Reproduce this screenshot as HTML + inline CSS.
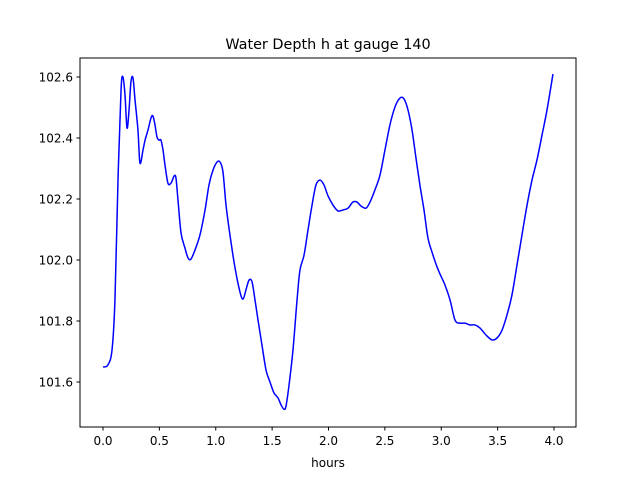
<!DOCTYPE html>
<html><head><meta charset="utf-8">
<style>
html,body{margin:0;padding:0;background:#fff;}
svg{display:block;font-family:"DejaVu Sans","Liberation Sans",sans-serif;}
</style></head>
<body>
<svg id="chart" width="640" height="480" viewBox="0 0 640 480">
<rect x="0" y="0" width="640" height="480" fill="#fff"/>
<text x="328" y="49" font-size="14.4" text-anchor="middle" fill="#000">Water Depth h at gauge 140</text>
<g id="xticks"></g>
<g id="yticks"></g>
<path id="line" fill="none" stroke="#0000ff" stroke-width="1.5"/>
<rect x="80" y="58" width="496" height="369" fill="none" stroke="#000" stroke-width="1"/>
<text x="328" y="467" font-size="12" text-anchor="middle" fill="#000">hours</text>
</svg>
<script>
const hours=[0,0.044,0.080,0.106,0.133,0.160,0.177,0.195,0.213,0.231,0.248,0.266,0.284,0.310,0.328,0.355,0.373,0.399,0.426,0.443,0.461,0.479,0.497,0.514,0.532,0.550,0.576,0.603,0.630,0.647,0.665,0.692,0.727,0.754,0.780,0.816,0.860,0.905,0.940,0.976,1.011,1.038,1.064,1.091,1.126,1.171,1.215,1.242,1.268,1.295,1.322,1.348,1.375,1.410,1.446,1.481,1.517,1.552,1.579,1.605,1.623,1.650,1.685,1.721,1.747,1.783,1.818,1.854,1.889,1.925,1.960,1.996,2.040,2.084,2.129,2.173,2.217,2.253,2.288,2.333,2.368,2.412,2.457,2.501,2.545,2.590,2.634,2.670,2.705,2.741,2.776,2.812,2.847,2.882,2.918,2.953,2.989,3.033,3.078,3.122,3.166,3.211,3.255,3.299,3.344,3.397,3.450,3.494,3.539,3.583,3.627,3.672,3.716,3.761,3.805,3.849,3.894,3.938,3.991];
const depth=[101.649,101.656,101.705,101.869,102.262,102.557,102.600,102.541,102.433,102.492,102.584,102.597,102.525,102.426,102.318,102.361,102.393,102.426,102.466,102.472,102.443,102.403,102.393,102.393,102.361,102.311,102.252,102.252,102.275,102.269,102.197,102.089,102.039,102.007,102.003,102.033,102.082,102.164,102.246,102.295,102.321,102.321,102.289,102.180,102.082,101.974,101.895,101.872,101.902,101.934,101.928,101.869,101.803,101.721,101.639,101.600,101.564,101.548,101.525,101.511,101.521,101.590,101.705,101.869,101.967,102.016,102.098,102.180,102.246,102.262,102.246,102.210,102.180,102.161,102.164,102.170,102.190,102.190,102.177,102.170,102.190,102.230,102.279,102.361,102.443,102.502,102.531,102.528,102.492,102.426,102.334,102.243,102.164,102.072,102.026,101.987,101.954,101.918,101.869,101.803,101.793,101.793,101.787,101.787,101.777,101.754,101.738,101.744,101.770,101.820,101.885,101.984,102.082,102.180,102.262,102.328,102.410,102.492,102.610];
const xTickVals=[0,0.5,1,1.5,2,2.5,3,3.5,4];
const xTickLabels=["0.0","0.5","1.0","1.5","2.0","2.5","3.0","3.5","4.0"];
const yTickVals=[101.6,101.8,102.0,102.2,102.4,102.6];
const yTickLabels=["101.6","101.8","102.0","102.2","102.4","102.6"];

const X=h=>103+h*112.75;
const Y=v=>382-(v-101.6)*305;
const NS="http://www.w3.org/2000/svg";
const xg=document.getElementById('xticks'), yg=document.getElementById('yticks');
xTickVals.forEach((t,i)=>{
  const l=document.createElementNS(NS,'line');
  
  
  l.setAttribute('x1',X(t));l.setAttribute('x2',X(t));l.setAttribute('y1',427);l.setAttribute('y2',430.5);l.setAttribute('stroke','#000');
  xg.appendChild(l);
  const tx=document.createElementNS(NS,'text');
  
  
  tx.setAttribute('x',X(t));tx.setAttribute('y',445);tx.setAttribute('font-size','12');tx.setAttribute('text-anchor','middle');
  tx.textContent=xTickLabels[i];xg.appendChild(tx);
});
yTickVals.forEach((v,i)=>{
  const l=document.createElementNS(NS,'line');
  
  
  l.setAttribute('x1',76.5);l.setAttribute('x2',80);l.setAttribute('y1',Y(v));l.setAttribute('y2',Y(v));l.setAttribute('stroke','#000');
  yg.appendChild(l);
  const tx=document.createElementNS(NS,'text');
  
  
  tx.setAttribute('x',73);tx.setAttribute('y',Y(v)+4.5);tx.setAttribute('font-size','12');tx.setAttribute('text-anchor','end');
  tx.textContent=yTickLabels[i];yg.appendChild(tx);
});
const pts=hours.map((h,i)=>[X(h),Y(depth[i])]);
let d='M'+pts[0][0].toFixed(2)+' '+pts[0][1].toFixed(2);
for(let i=0;i<pts.length-1;i++){
  const p0=pts[Math.max(0,i-1)],p1=pts[i],p2=pts[i+1],p3=pts[Math.min(pts.length-1,i+2)];
  const c1=[p1[0]+(p2[0]-p0[0])/6,p1[1]+(p2[1]-p0[1])/6];
  const c2=[p2[0]-(p3[0]-p1[0])/6,p2[1]-(p3[1]-p1[1])/6];
  d+=` C${c1[0].toFixed(2)} ${c1[1].toFixed(2)} ${c2[0].toFixed(2)} ${c2[1].toFixed(2)} ${p2[0].toFixed(2)} ${p2[1].toFixed(2)}`;
}
document.getElementById('line').setAttribute('d',d);
</script>
</body></html>
